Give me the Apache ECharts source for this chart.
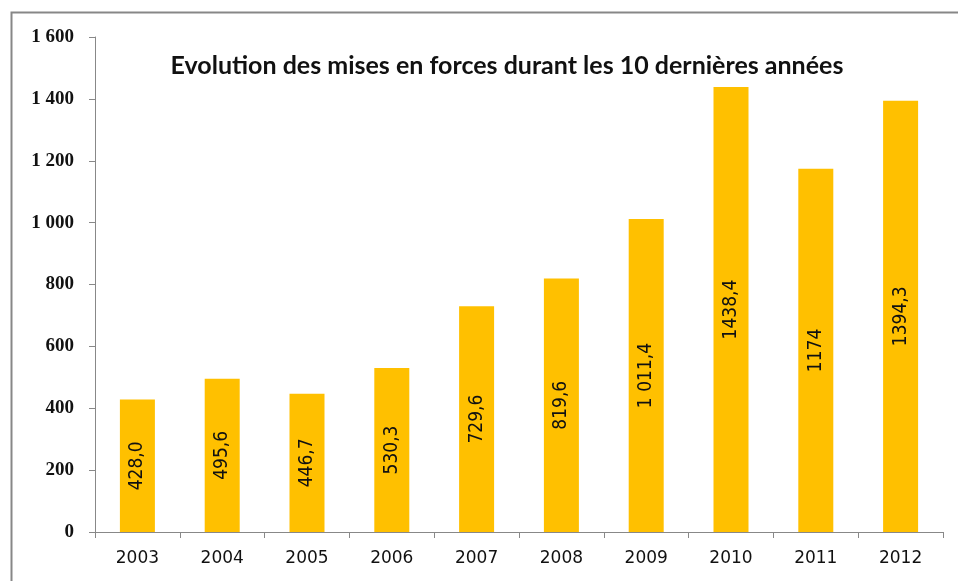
<!DOCTYPE html>
<html><head><meta charset="utf-8">
<script src="https://cdn.jsdelivr.net/npm/echarts@6/dist/echarts.min.js"></script>
<style>html,body{margin:0;padding:0;background:#fff}#c{width:958px;height:581px}</style>
</head><body><div id="c"></div>
<script>
const categories = ['2003','2004','2005','2006','2007','2008','2009','2010','2011','2012'];
const values = [428.0, 495.6, 446.7, 530.3, 729.6, 819.6, 1011.4, 1438.4, 1174, 1394.3];
const labels = ['428,0','495,6','446,7','530,3','729,6','819,6','1 011,4','1438,4','1174','1394,3'];
const yTicks = [0, 200, 400, 600, 800, 1000, 1200, 1400, 1600];
const title = 'Evolution des mises en forces durant les 10 dernières années';

const chart = echarts.init(document.getElementById('c'), null, {renderer:'canvas'});
chart.setOption({
  animation: false,
  backgroundColor: '#fff',
  graphic: [{
    type: 'rect', shape: {x: 11.5, y: 12.5, width: 1000, height: 1000},
    style: {fill: 'none', stroke: '#878787', lineWidth: 2}, silent: true
  }],
  title: {
    text: title, left: 502, top: 48, textAlign: 'center',
    textStyle: {fontFamily: 'Lato', fontWeight: 'bold', fontSize: 25, color: '#111'}
  },
  grid: {left: 95, top: 37, right: 15, bottom: 49},
  xAxis: {
    type: 'category', data: categories,
    axisLine: {lineStyle: {color: '#888', width: 1}},
    axisTick: {show: true, length: 6, lineStyle: {color: '#888'}},
    axisLabel: {fontFamily: 'DejaVu Sans', fontSize: 17, color: '#111', margin: 18}
  },
  yAxis: {
    type: 'value', min: yTicks[0], max: yTicks[yTicks.length-1], interval: 200,
    axisLine: {show: true, lineStyle: {color: '#888', width: 1}},
    axisTick: {show: true, length: 6, lineStyle: {color: '#888'}},
    splitLine: {show: false},
    axisLabel: {
      fontFamily: 'Liberation Serif', fontWeight: 'bold', fontSize: 19, color: '#111', margin: 21,
      formatter: v => v >= 1000 ? Math.floor(v/1000) + ' ' + String(v%1000).padStart(3,'0') : String(v)
    }
  },
  series: [{
    type: 'bar', data: values, barWidth: 35,
    itemStyle: {color: '#FFC000'},
    label: {
      show: true, position: 'inside', rotate: 90,
      formatter: p => labels[p.dataIndex],
      fontFamily: "'Liberation Sans Narrow', 'DejaVu Sans Condensed', sans-serif", fontSize: 19, color: '#111'
    }
  }]
});
</script></body></html>
